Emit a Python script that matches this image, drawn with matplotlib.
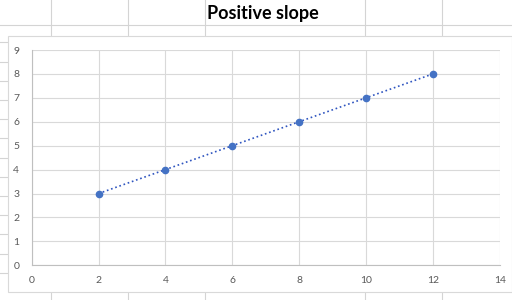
import matplotlib.pyplot as plt
from matplotlib.lines import Line2D
from matplotlib.patches import Rectangle

x_vals = [2, 4, 6, 8, 10, 12]
y_vals = [3, 4, 5, 6, 7, 8]
x_ticks = [0, 2, 4, 6, 8, 10, 12, 14]
y_ticks = [0, 1, 2, 3, 4, 5, 6, 7, 8, 9]
title = "Positive slope"

W, H = 512, 300
fig = plt.figure(figsize=(W/100, H/100), dpi=100)

def px_line(x0, y0, x1, y1, color='#d4d4d4', lw=0.8):
    fig.add_artist(Line2D([x0/W, x1/W], [1-y0/H, 1-y1/H], color=color, lw=lw,
                          zorder=-2))

# spreadsheet cell lines behind the chart
px_line(0, 24.5, W, 24.5)
for cx in [50.5, 127.5, 204.5, 364.5, 441.5]:
    px_line(cx, 0, cx, 36)
    px_line(cx, 292, cx, H)
for ry in [42, 62, 81, 100, 119, 138, 158, 177, 196, 215, 234, 254, 273]:
    px_line(0, ry, 8, ry)

# chart area
fig.add_artist(Rectangle((8/W, 1-292/H), (W-8)/W, (292-36)/H, facecolor='white',
                         edgecolor='#d9d9d9', lw=0.8, transform=fig.transFigure,
                         zorder=-1))

fig.text(263/W, 1-13/H, title, ha='center', va='center', fontsize=13,
         fontweight='bold', family='Lato', color='black')

left, right, top, bottom = 31.7, 499.7, 50, 265.3
ax = fig.add_axes([left/W, 1-bottom/H, (right-left)/W, (bottom-top)/H])
ax.set_zorder(1)
ax.patch.set_alpha(0)
ax.plot(x_vals, y_vals, linestyle=':', color='#2f55c0', lw=1.2, zorder=3)
ax.plot(x_vals, y_vals, linestyle='none', marker='o', markersize=4.5,
        color='#4472c4', zorder=4)
ax.set_xlim(0, 14)
ax.set_ylim(0, 9)
ax.set_xticks(x_ticks)
ax.set_yticks(y_ticks)
ax.grid(True, color='#d9d9d9', lw=0.8)
ax.set_axisbelow(True)
for s in ['top', 'right']:
    ax.spines[s].set_visible(False)
for s in ['left', 'bottom']:
    ax.spines[s].set_color('#bfbfbf')
    ax.spines[s].set_linewidth(0.8)
ax.tick_params(length=0, labelsize=7.5, labelcolor='#595959', pad=8)
ax.tick_params(axis='y', pad=9)
for lab in ax.get_xticklabels() + ax.get_yticklabels():
    lab.set_family('Lato')

fig.savefig('out.png', dpi=100)
